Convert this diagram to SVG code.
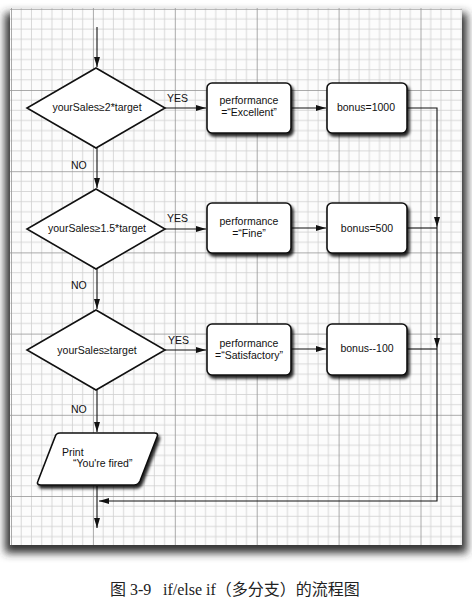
<svg xmlns="http://www.w3.org/2000/svg" width="472" height="601" viewBox="0 0 472 601">
<style>
.t{font-family:"Liberation Sans",Arial,sans-serif;font-size:10.5px;fill:#111}
.c{text-anchor:middle}
.ln{fill:none;stroke:#111;stroke-width:1.1}
.nd{fill:#fff;stroke:#111;stroke-width:1.6}
.mi{stroke:#cfcfcf;stroke-width:0.8}
.ma{stroke:#959595;stroke-width:0.9}
</style>
<defs>
<marker id="ah" viewBox="0 0 10 6" refX="10" refY="3" markerWidth="10" markerHeight="6" markerUnits="userSpaceOnUse" orient="auto">
<path d="M0,0 L10,3 L0,6 Z" fill="#111"/>
</marker>
<filter id="sh" x="-20%" y="-20%" width="150%" height="160%">
<feDropShadow dx="2" dy="3" stdDeviation="1.6" flood-color="#000" flood-opacity="0.85"/>
</filter>
<filter id="ps" x="-10%" y="-10%" width="120%" height="120%">
<feGaussianBlur stdDeviation="4"/>
</filter>
<pattern id="grid" patternUnits="userSpaceOnUse" x="11" y="8.8" width="81.9" height="81.2">
<g class="mi">
<line x1="10.24" y1="0" x2="10.24" y2="81.2"/><line x1="20.48" y1="0" x2="20.48" y2="81.2"/><line x1="30.71" y1="0" x2="30.71" y2="81.2"/><line x1="40.95" y1="0" x2="40.95" y2="81.2"/><line x1="51.19" y1="0" x2="51.19" y2="81.2"/><line x1="61.43" y1="0" x2="61.43" y2="81.2"/><line x1="71.66" y1="0" x2="71.66" y2="81.2"/>
<line x1="0" y1="10.15" x2="81.9" y2="10.15"/><line x1="0" y1="20.3" x2="81.9" y2="20.3"/><line x1="0" y1="30.45" x2="81.9" y2="30.45"/><line x1="0" y1="40.6" x2="81.9" y2="40.6"/><line x1="0" y1="50.75" x2="81.9" y2="50.75"/><line x1="0" y1="60.9" x2="81.9" y2="60.9"/><line x1="0" y1="71.05" x2="81.9" y2="71.05"/>
</g>
<g class="ma"><line x1="0.4" y1="0" x2="0.4" y2="81.2"/><line x1="0" y1="0.4" x2="81.9" y2="0.4"/></g>
</pattern>
</defs>
<rect width="472" height="601" fill="#fff"/>
<g id="paper">
<rect x="5" y="13" width="462" height="540" fill="#333" filter="url(#ps)"/>
<rect x="10" y="8" width="452" height="537" fill="#fcfcfc"/>
<rect x="10" y="8" width="452" height="537" fill="url(#grid)"/>
</g>
<g id="connectors">
<path class="ln" d="M97,27 V67" marker-end="url(#ah)"/>
<path class="ln" d="M97,148 V188" marker-end="url(#ah)"/>
<path class="ln" d="M97,269 V309" marker-end="url(#ah)"/>
<path class="ln" d="M97,390 V432" marker-end="url(#ah)"/>
<path class="ln" d="M97,486 V528" marker-end="url(#ah)"/>
<path class="ln" d="M165,108 H206" marker-end="url(#ah)"/>
<path class="ln" d="M165,229 H206" marker-end="url(#ah)"/>
<path class="ln" d="M165,350 H206" marker-end="url(#ah)"/>
<path class="ln" d="M291,108 H326" marker-end="url(#ah)"/>
<path class="ln" d="M291,228 H326" marker-end="url(#ah)"/>
<path class="ln" d="M291,349 H326" marker-end="url(#ah)"/>
<path class="ln" d="M407,108 H437 V227" marker-end="url(#ah)"/>
<path class="ln" d="M407,228 H437"/>
<path class="ln" d="M437,227 V348" marker-end="url(#ah)"/>
<path class="ln" d="M407,349 H437"/>
<path class="ln" d="M437,348 V501 H99" marker-end="url(#ah)"/>
<text class="t" x="167" y="102">YES</text>
<text class="t" x="71" y="169">NO</text>
<text class="t" x="167" y="222">YES</text>
<text class="t" x="71" y="289">NO</text>
<text class="t" x="168" y="344">YES</text>
<text class="t" x="71" y="413">NO</text>
</g>
<g id="d1">
<path class="nd" d="M96,68 L165,108 L96,148 L27,108 Z"/>
<text class="t c" x="97" y="111">yourSales≥2*target</text>
</g>
<g id="d2">
<path class="nd" d="M96,189 L165,229 L96,269 L27,229 Z"/>
<text class="t c" x="97" y="232">yourSales≥1.5*target</text>
</g>
<g id="d3">
<path class="nd" d="M96,310 L165,350 L96,390 L27,350 Z"/>
<text class="t c" x="97" y="354">yourSales≥target</text>
</g>
<g id="b1">
<rect class="nd" x="207" y="83" width="84" height="50" rx="5" filter="url(#sh)"/>
<text class="t c" x="249" y="104">performance</text>
<text class="t c" x="249" y="116">=“Excellent”</text>
</g>
<g id="b2">
<rect class="nd" x="327" y="83" width="80" height="50" rx="5" filter="url(#sh)"/>
<text class="t c" x="366" y="111">bonus=1000</text>
</g>
<g id="b3">
<rect class="nd" x="207" y="203" width="84" height="50" rx="5" filter="url(#sh)"/>
<text class="t c" x="249" y="225">performance</text>
<text class="t c" x="249" y="237">=“Fine”</text>
</g>
<g id="b4">
<rect class="nd" x="327" y="203" width="80" height="50" rx="5" filter="url(#sh)"/>
<text class="t c" x="367" y="232">bonus=500</text>
</g>
<g id="b5">
<rect class="nd" x="207" y="324" width="84" height="51" rx="5" filter="url(#sh)"/>
<text class="t c" x="249" y="347">performance</text>
<text class="t c" x="249" y="359">=“Satisfactory”</text>
</g>
<g id="b6">
<rect class="nd" x="327" y="324" width="80" height="51" rx="5" filter="url(#sh)"/>
<text class="t c" x="367" y="352">bonus--100</text>
</g>
<g id="p1">
<path class="nd" filter="url(#sh)" d="M60,433 H154 Q159,433 157,437 L140,481 Q138,485 134,485 H41 Q36,485 38,481 L55,437 Q56,433 60,433 Z"/>
<text class="t" x="62" y="456">Print</text>
<text class="t" x="73" y="467">“You're fired”</text>
</g>
<text x="110" y="595" style="font-family:'Liberation Serif','Noto Sans CJK SC',serif;font-size:16px;fill:#222">图 3-9<tspan x="163">if/else if（多分支）的流程图</tspan></text>
</svg>
